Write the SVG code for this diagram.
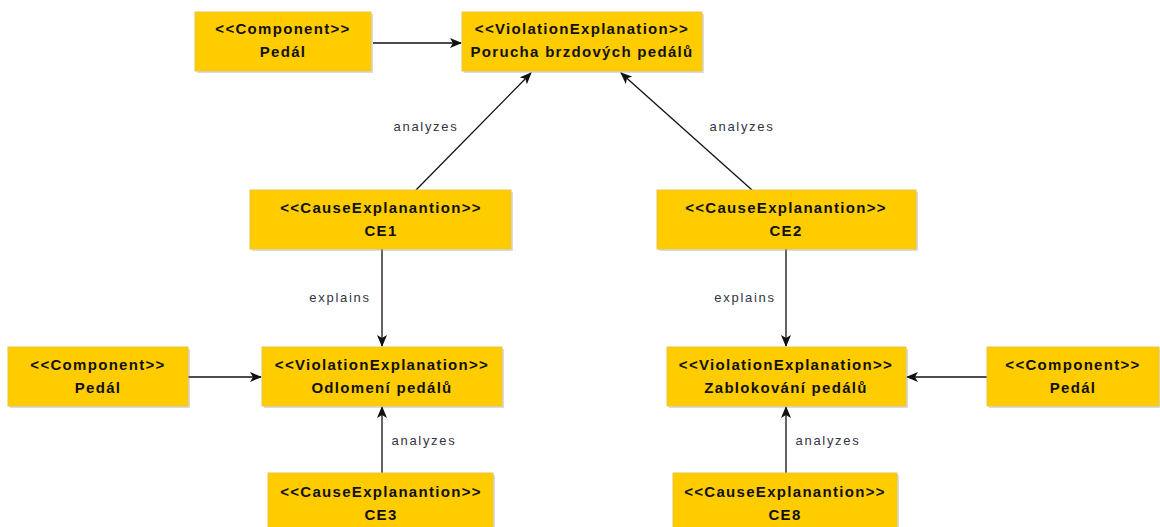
<svg xmlns="http://www.w3.org/2000/svg" width="1160" height="527" viewBox="0 0 1160 527">
  <style>
    .box { fill: #ffcc00; stroke: #e8c640; stroke-width: 1; }
    .shadow { fill: #8c8c8c; opacity: 0.3; }
    .t { font-family: "Liberation Sans", Arial, sans-serif; font-size: 15px; font-weight: bold; fill: #111; text-anchor: middle; letter-spacing: 1.3px; }
    .lbl { font-family: "Liberation Sans", Arial, sans-serif; font-size: 13px; fill: #333344; text-anchor: middle; letter-spacing: 1.7px; }
    .edge { stroke: #111; stroke-width: 1.3; fill: none; marker-end: url(#arrow); }
  </style>
  <defs>
    <marker id="arrow" viewBox="0 0 12 10" refX="11" refY="5" markerWidth="12" markerHeight="10" markerUnits="userSpaceOnUse" orient="auto">
      <path d="M0,0 L12,5 L0,10 L3,5 z" fill="#111"/>
    </marker>
  </defs>
  <rect width="1160" height="527" fill="#ffffff"/>

  <g id="connectors">
    <line class="edge" x1="373" y1="43" x2="461" y2="43"/>
    <line class="edge" x1="416" y1="190" x2="531" y2="73"/>
    <line class="edge" x1="752" y1="190" x2="621" y2="73"/>
    <line class="edge" x1="382" y1="249" x2="382" y2="346"/>
    <line class="edge" x1="786" y1="249" x2="786" y2="346"/>
    <line class="edge" x1="188" y1="377" x2="261" y2="377"/>
    <line class="edge" x1="987" y1="377" x2="907" y2="377"/>
    <line class="edge" x1="382" y1="473" x2="382" y2="407"/>
    <line class="edge" x1="786" y1="473" x2="786" y2="407"/>
    <text class="lbl" x="426" y="131">analyzes</text>
    <text class="lbl" x="742" y="131">analyzes</text>
    <text class="lbl" x="340" y="302">explains</text>
    <text class="lbl" x="745" y="302">explains</text>
    <text class="lbl" x="424" y="445">analyzes</text>
    <text class="lbl" x="828" y="445">analyzes</text>
  </g>

  <g id="component-top">
    <rect class="shadow" x="197" y="14" width="176" height="59"/>
    <rect class="box" x="195" y="12" width="176" height="59"/>
    <text class="t" x="283" y="34">&lt;&lt;Component&gt;&gt;</text>
    <text class="t" x="283" y="57">Pedál</text>
  </g>

  <g id="ve-porucha">
    <rect class="shadow" x="464" y="14" width="240" height="59"/>
    <rect class="box" x="462" y="12" width="240" height="59"/>
    <text class="t" x="582" y="34">&lt;&lt;ViolationExplanation&gt;&gt;</text>
    <text class="t" x="582" y="57">Porucha brzdových pedálů</text>
  </g>

  <g id="ce1">
    <rect class="shadow" x="252" y="192" width="261" height="59"/>
    <rect class="box" x="250" y="190" width="261" height="59"/>
    <text class="t" x="381" y="213">&lt;&lt;CauseExplanantion&gt;&gt;</text>
    <text class="t" x="381" y="236">CE1</text>
  </g>

  <g id="ce2">
    <rect class="shadow" x="659" y="192" width="259" height="59"/>
    <rect class="box" x="657" y="190" width="259" height="59"/>
    <text class="t" x="786" y="213">&lt;&lt;CauseExplanantion&gt;&gt;</text>
    <text class="t" x="786" y="236">CE2</text>
  </g>

  <g id="component-left">
    <rect class="shadow" x="10" y="349" width="180" height="59"/>
    <rect class="box" x="8" y="347" width="180" height="59"/>
    <text class="t" x="98" y="370">&lt;&lt;Component&gt;&gt;</text>
    <text class="t" x="98" y="393">Pedál</text>
  </g>

  <g id="ve-odlomeni">
    <rect class="shadow" x="264" y="349" width="240" height="59"/>
    <rect class="box" x="262" y="347" width="240" height="59"/>
    <text class="t" x="382" y="370">&lt;&lt;ViolationExplanation&gt;&gt;</text>
    <text class="t" x="382" y="393">Odlomení pedálů</text>
  </g>

  <g id="ve-zablokovani">
    <rect class="shadow" x="669" y="349" width="239" height="59"/>
    <rect class="box" x="667" y="347" width="239" height="59"/>
    <text class="t" x="786" y="370">&lt;&lt;ViolationExplanation&gt;&gt;</text>
    <text class="t" x="786" y="393">Zablokování pedálů</text>
  </g>

  <g id="component-right">
    <rect class="shadow" x="989" y="349" width="172" height="59"/>
    <rect class="box" x="987" y="347" width="172" height="59"/>
    <text class="t" x="1073" y="370">&lt;&lt;Component&gt;&gt;</text>
    <text class="t" x="1073" y="393">Pedál</text>
  </g>

  <g id="ce3">
    <rect class="shadow" x="270" y="475" width="225" height="60"/>
    <rect class="box" x="268" y="473" width="225" height="60"/>
    <text class="t" x="381" y="497">&lt;&lt;CauseExplanantion&gt;&gt;</text>
    <text class="t" x="381" y="520">CE3</text>
  </g>

  <g id="ce8">
    <rect class="shadow" x="675" y="475" width="224" height="60"/>
    <rect class="box" x="673" y="473" width="224" height="60"/>
    <text class="t" x="785" y="497">&lt;&lt;CauseExplanantion&gt;&gt;</text>
    <text class="t" x="785" y="520">CE8</text>
  </g>
</svg>
